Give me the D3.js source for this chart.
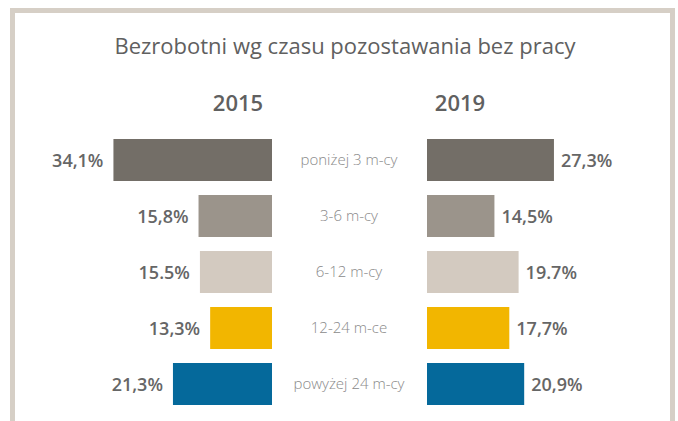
<!DOCTYPE html>
<html lang="pl">
<head>
<meta charset="utf-8" />
<title>Bezrobotni wg czasu pozostawania bez pracy</title>
<script src="https://cdn.jsdelivr.net/npm/d3@7"></script>
<style>
  body { margin: 0; background: #fff; }
  svg text { font-family: "Open Sans", "Noto Sans", sans-serif; }
</style>
</head>
<body>
<svg id="chart" width="678" height="421"></svg>
<script>
    // dane
    var categories = ['poniżej 3 m-cy', '3-6 m-cy', '6-12 m-cy', '12-24 m-ce', 'powyżej 24 m-cy'];
    var years = ['2015', '2019'];
    var values2015 = [34.1, 15.8, 15.5, 13.3, 21.3];
    var values2019 = [27.3, 14.5, 19.7, 17.7, 20.9];
    var labels2015 = ['34,1%', '15,8%', '15.5%', '13,3%', '21,3%'];
    var labels2019 = ['27,3%', '14,5%', '19.7%', '17,7%', '20,9%'];
    var colors = ['#736e67', '#9b948b', '#d3cac0', '#f2b600', '#05699b'];

    var svg = d3.select('#chart');

    // ramka (otwarta od dołu)
    svg.append('path')
        .attr('d', 'M12.5,421 V10.5 H672.5 V421')
        .style('fill', 'none')
        .style('stroke', '#d6cfc6')
        .style('stroke-width', 5);

    svg.append('text')
        .attr('x', 345)
        .attr('y', 54)
        .attr('text-anchor', 'middle')
        .style('font-size', '22px')
        .style('fill', '#606060')
        .text('Bezrobotni wg czasu pozostawania bez pracy');

    var k = 4.65;
    var xL = d3.scaleLinear().domain([0, 35]).range([272, 272 - 35 * k]);
    var xR = d3.scaleLinear().domain([0, 35]).range([427, 427 + 35 * k]);

    var y = d3.scaleBand()
        .domain(categories)
        .range([132, 412])
        .paddingInner(0.25)
        .paddingOuter(0.125);

    // naglowki lat
    svg.selectAll('.year')
        .data(years)
        .enter().append('text')
        .attr('class', 'year')
        .attr('x', function(d, i) { return i == 0 ? 238 : 460; })
        .attr('y', 111)
        .attr('text-anchor', 'middle')
        .style('font-size', '22px')
        .style('font-weight', '600')
        .style('fill', '#606060')
        .text(function(d) { return d; });

    // 2015 - slupki w lewo
    svg.selectAll('.bar-l')
        .data(values2015)
        .enter().append('rect')
        .attr('class', 'bar-l')
        .attr('x', function(d) { return xL(d); })
        .attr('y', function(d, i) { return y(categories[i]); })
        .attr('width', function(d) { return xL(0) - xL(d); })
        .attr('height', y.bandwidth())
        .style('fill', function(d, i) { return colors[i]; });

    svg.selectAll('.val-l')
        .data(values2015)
        .enter().append('text')
        .attr('class', 'val-l')
        .attr('x', function(d) { return xL(d) - 10; })
        .attr('y', function(d, i) { return y(categories[i]) + y.bandwidth() / 2 + 7; })
        .attr('text-anchor', 'end')
        .style('font-size', '18px')
        .style('font-weight', '600')
        .style('fill', '#666')
        .text(function(d, i) { return labels2015[i]; });

    // 2019 - slupki w prawo
    svg.selectAll('.bar-r')
        .data(values2019)
        .enter().append('rect')
        .attr('class', 'bar-r')
        .attr('x', xR(0))
        .attr('y', function(d, i) { return y(categories[i]); })
        .attr('width', function(d) { return xR(d) - xR(0); })
        .attr('height', y.bandwidth())
        .style('fill', function(d, i) { return colors[i]; });

    svg.selectAll('.val-r')
        .data(values2019)
        .enter().append('text')
        .attr('class', 'val-r')
        .attr('x', function(d) { return xR(d) + 7; })
        .attr('y', function(d, i) { return y(categories[i]) + y.bandwidth() / 2 + 7; })
        .style('font-size', '18px')
        .style('font-weight', '600')
        .style('fill', '#666')
        .text(function(d, i) { return labels2019[i]; });

    // kategorie w srodku
    svg.selectAll('.cat')
        .data(categories)
        .enter().append('text')
        .attr('class', 'cat')
        .attr('x', 349)
        .attr('y', function(d) { return y(d) + y.bandwidth() / 2 + 5; })
        .attr('text-anchor', 'middle')
        .style('font-size', '15px')
        .style('font-weight', '300')
        .style('fill', '#8a8a8a')
        .text(function(d) { return d; });
</script>
</body>
</html>
